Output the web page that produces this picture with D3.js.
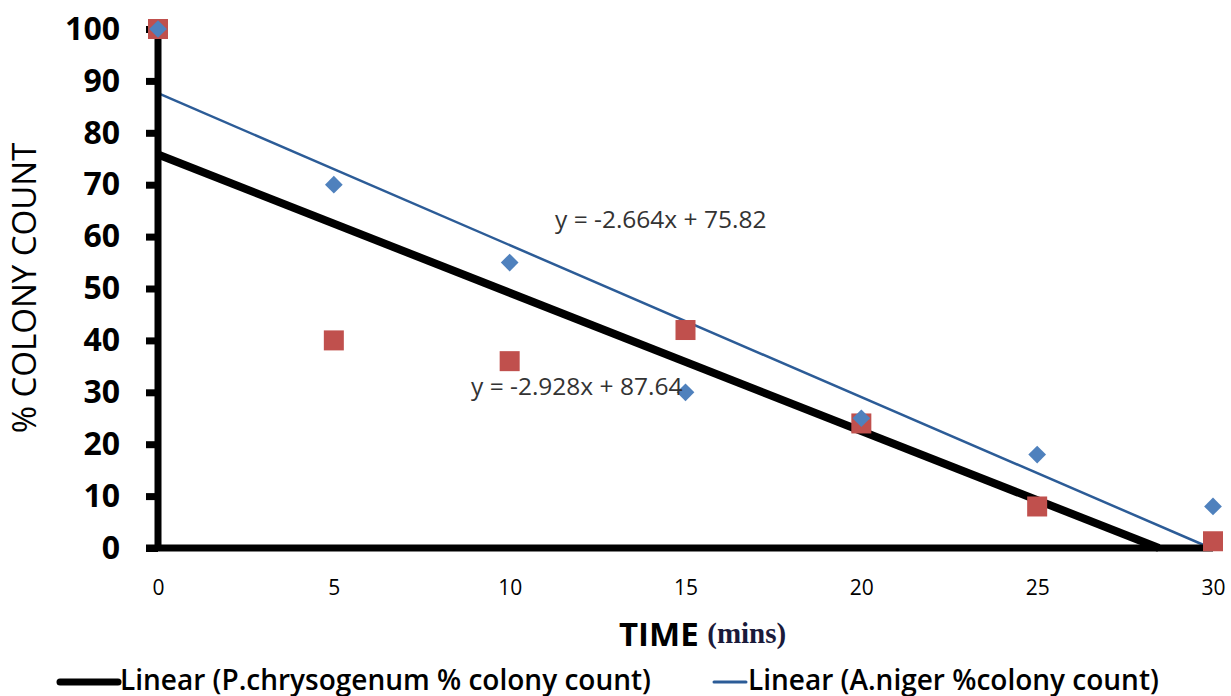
<!DOCTYPE html>
<html>
<head>
<meta charset="utf-8">
<script src="https://cdn.jsdelivr.net/npm/d3@7"></script>
<style>
  body { margin: 0; background: #fff; }
  svg { display: block; }
</style>
</head>
<body>
<div id="chart"></div>
<script>
// data
var times = [0, 5, 10, 15, 20, 25, 30];
var nigerPct = [100, 70, 55, 30, 25, 18, 8];
var chrysoPct = [100, 40, 36, 42, 24, 8, 1.3];
var yTicks = [0, 10, 20, 30, 40, 50, 60, 70, 80, 90, 100];
var xTicks = [0, 5, 10, 15, 20, 25, 30];
// trendline fits as printed on the chart
var chrysoFit = { slope: -2.664, icept: 75.82, label: "y = -2.664x + 75.82" };
var nigerFit = { slope: -2.928, icept: 87.64, label: "y = -2.928x + 87.64" };

var w = 1231, h = 696;

var x = d3.scaleLinear().domain([0, 30]).range([158, 1213]);
var y = d3.scaleLinear().domain([0, 100]).range([548, 29]);

var svg = d3.select("#chart").append("svg")
  .attr("width", w)
  .attr("height", h);

// trend line segments from x=0 to where they hit zero
function fitLine(f) {
  var xEnd = Math.min(30, -f.icept / f.slope);
  return [[0, f.icept], [xEnd, f.icept + f.slope * xEnd]];
}
var line = d3.line().x(function (d) { return x(d[0]); }).y(function (d) { return y(d[1]); });

svg.append("path")
  .attr("d", line(fitLine(chrysoFit)))
  .attr("fill", "none")
  .attr("stroke", "#000")
  .attr("stroke-width", 8);

svg.append("path")
  .attr("d", line(fitLine(nigerFit)))
  .attr("fill", "none")
  .attr("stroke", "#2c5c97")
  .attr("stroke-width", 2.5);

// y axis
var gy = svg.append("g")
  .attr("transform", "translate(" + x(0) + ",0)")
  .call(d3.axisLeft(y).tickValues(yTicks).tickSize(12).tickPadding(26));
gy.select(".domain").attr("stroke", "#000").attr("stroke-width", 7)
  .attr("d", "M0," + (y(100) + 4) + "V" + (y(0) + 3));
gy.selectAll(".tick line").attr("stroke", "#000").attr("stroke-width", 7);
gy.selectAll(".tick text")
  .attr("font-family", "'Open Sans', sans-serif")
  .attr("font-weight", "bold")
  .attr("font-size", 32)
  .attr("fill", "#000");

// x axis
var gx = svg.append("g")
  .attr("transform", "translate(0," + y(0) + ")")
  .call(d3.axisBottom(x).tickValues(xTicks).tickSize(0).tickPadding(32));
gx.select(".domain").attr("stroke", "#000").attr("stroke-width", 7)
  .attr("d", "M" + (x(0) - 12) + ",0H" + x(30));
gx.selectAll(".tick text")
  .attr("font-family", "'Open Sans', sans-serif")
  .attr("font-size", 21)
  .attr("fill", "#000");

// scatter points: squares first, diamonds on top
var sq = 20;
svg.selectAll("rect.chryso")
  .data(times)
  .enter()
  .append("rect")
  .attr("class", "chryso")
  .attr("x", function (d) { return x(d) - sq / 2; })
  .attr("y", function (d, i) { return y(chrysoPct[i]) - sq / 2; })
  .attr("width", sq)
  .attr("height", sq)
  .attr("fill", "#c0504d");

var diamond = d3.symbol().type(d3.symbolDiamond2).size(200);
svg.selectAll("path.niger")
  .data(times)
  .enter()
  .append("path")
  .attr("class", "niger")
  .attr("d", diamond)
  .attr("transform", function (d, i) { return "translate(" + x(d) + "," + y(nigerPct[i]) + ")"; })
  .attr("fill", "#4f81bd");

// equation labels
svg.append("text")
  .attr("x", 555).attr("y", 228)
  .attr("font-family", "'Open Sans', sans-serif")
  .attr("font-size", 24.5)
  .attr("fill", "#333")
  .text(chrysoFit.label);

svg.append("text")
  .attr("x", 471).attr("y", 395)
  .attr("font-family", "'Open Sans', sans-serif")
  .attr("font-size", 24.5)
  .attr("fill", "#333")
  .text(nigerFit.label);

// axis titles
var xt = svg.append("text")
  .attr("x", 619).attr("y", 646)
  .attr("font-family", "'Open Sans', sans-serif");
xt.append("tspan").attr("font-size", 33).attr("font-weight", "bold").attr("fill", "#000").text("TIME ");
xt.append("tspan").attr("font-size", 29).attr("font-weight", "bold").attr("font-family", "'Liberation Serif', serif")
  .attr("fill", "#1a1a3a").attr("dy", -3).text("(mins)");

svg.append("text")
  .attr("transform", "translate(36,288) rotate(-90)")
  .attr("text-anchor", "middle")
  .attr("font-family", "'Open Sans', sans-serif")
  .attr("font-size", 33)
  .attr("fill", "#000")
  .text("%  COLONY COUNT");

// legend
var legendItems = [
  { label: "Linear (P.chrysogenum % colony count)", color: "#000", width: 7, x0: 60, len: 58 },
  { label: "Linear (A.niger %colony count)", color: "#2c5c97", width: 3, x0: 714, len: 32 }
];
var lg = svg.selectAll("g.legend")
  .data(legendItems)
  .enter()
  .append("g")
  .attr("class", "legend")
  .attr("transform", function (d) { return "translate(" + d.x0 + ",682)"; });
lg.append("line")
  .attr("x1", 0).attr("x2", function (d) { return d.len; })
  .attr("stroke", function (d) { return d.color; })
  .attr("stroke-width", function (d) { return d.width; })
  .attr("stroke-linecap", "round");
lg.append("text")
  .attr("x", function (d) { return d.len + 2; })
  .attr("y", 8)
  .attr("font-family", "'Open Sans', sans-serif")
  .attr("font-weight", 600)
  .attr("font-size", 28)
  .attr("fill", "#000")
  .text(function (d) { return d.label; });
</script>
</body>
</html>
